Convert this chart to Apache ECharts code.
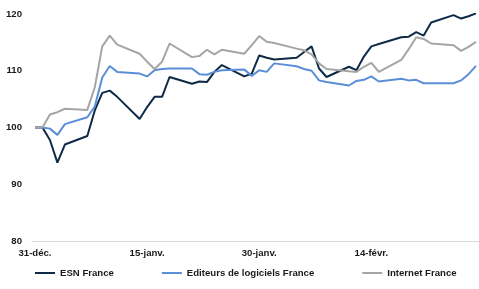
<!DOCTYPE html>
<html>
<head>
<meta charset="utf-8">
<script src="https://cdn.jsdelivr.net/npm/echarts@6/dist/echarts.min.js"></script>
<style>
  html, body { margin: 0; padding: 0; background: #ffffff; }
  #chart { width: 479px; height: 289px; }
</style>
</head>
<body>
<div id="chart"></div>
<script>
// trading days, as day offsets from 31-déc.
const days = [0, 1, 2, 3, 4, 7, 8, 9, 10, 11, 14, 15, 16, 17, 18, 21, 22, 23, 24, 25,
  28, 29, 30, 31, 32, 35, 36, 37, 38, 39, 42, 43, 44, 45, 46, 49, 50, 51, 52, 53,
  56, 57, 58, 59]
const esn = [100, 100, 97.8, 93.8, 97.0, 98.5, 103.0, 106.1, 106.5, 105.4,
  101.5, 103.6, 105.4, 105.4, 108.9, 107.7, 108.1, 108.0, 109.8, 111.0,
  109.0, 109.5, 112.7, 112.3, 112.0, 112.3, 113.3, 114.3, 110.4, 108.9,
  110.7, 110.1, 112.5, 114.3, 114.7, 115.9, 116.0, 116.8, 116.2, 118.5,
  119.8, 119.2, 119.6, 120.1]
const editeurs = [100, 100, 99.8, 98.7, 100.6, 101.8, 103.7, 108.8, 110.85, 109.8,
  109.5, 109.0, 110.1, 110.3, 110.4, 110.4, 109.4, 109.3, 109.8, 110.1,
  110.2, 109.1, 110.1, 109.8, 111.3, 110.8, 110.3, 110.0, 108.3, 108.0,
  107.4, 108.2, 108.4, 109.0, 108.1, 108.6, 108.3, 108.4, 107.8, 107.8,
  107.8, 108.3, 109.4, 110.85]
const internet = [100, 100, 102.3, 102.7, 103.3, 103.1, 107.1, 114.3, 116.2, 114.6,
  113.0, 111.6, 110.3, 111.6, 114.8, 112.4, 112.6, 113.7, 112.9, 113.7,
  113.0, 114.5, 116.1, 115.1, 114.9, 113.9, 113.6, 112.9, 111.3, 110.3,
  109.9, 109.8, 110.7, 111.4, 109.8, 111.9, 113.8, 115.9, 115.6, 114.8,
  114.5, 113.5, 114.2, 115.1]
const tickDays = [0, 15, 30, 45]
const tickLabels = ['31-déc.', '15-janv.', '30-janv.', '14-févr.']

const chart = echarts.init(document.getElementById('chart'))
const font = "'Liberation Sans', Arial, sans-serif"
const pairs = vals => days.map((d, i) => [d, vals[i]])
const labelStyle = {
  fontFamily: font,
  fontWeight: 'bold',
  fontSize: 9.6,
  color: '#1a1a1a'
}

const option = {
  animation: false,
  color: ['#0e2a47', '#5b8ed8', '#a5a5a5'],
  textStyle: { fontFamily: font },
  grid: {
    left: 32,
    right: -2,
    top: 14,
    bottom: 48
  },
  legend: {
    data: ['ESN France', 'Editeurs de logiciels France', 'Internet France'],
    left: 35,
    top: 268,
    padding: 0,
    itemGap: 48,
    itemWidth: 20,
    itemHeight: 2,
    icon: 'rect',
    textStyle: labelStyle
  },
  xAxis: {
    type: 'value',
    min: -0.4,
    max: 59.4,
    splitLine: { show: false },
    axisTick: { show: false },
    axisLine: {
      show: true,
      lineStyle: { color: '#d9d9d9', width: 1 }
    },
    axisLabel: {
      ...labelStyle,
      customValues: tickDays,
      margin: 7,
      formatter: v => tickLabels[tickDays.indexOf(v)] || ''
    }
  },
  yAxis: {
    type: 'value',
    min: 80,
    max: 120,
    interval: 10,
    splitLine: { show: false },
    axisTick: { show: false },
    axisLine: { show: false },
    axisLabel: {
      ...labelStyle,
      margin: 10
    }
  },
  series: [
    {
      name: 'ESN France',
      type: 'line',
      data: pairs(esn),
      showSymbol: false,
      symbol: 'none',
      lineStyle: { width: 2 }
    },
    {
      name: 'Editeurs de logiciels France',
      type: 'line',
      data: pairs(editeurs),
      showSymbol: false,
      symbol: 'none',
      lineStyle: { width: 2 }
    },
    {
      name: 'Internet France',
      type: 'line',
      data: pairs(internet),
      showSymbol: false,
      symbol: 'none',
      lineStyle: { width: 2 }
    }
  ]
}
chart.setOption(option)
</script>
</body>
</html>
